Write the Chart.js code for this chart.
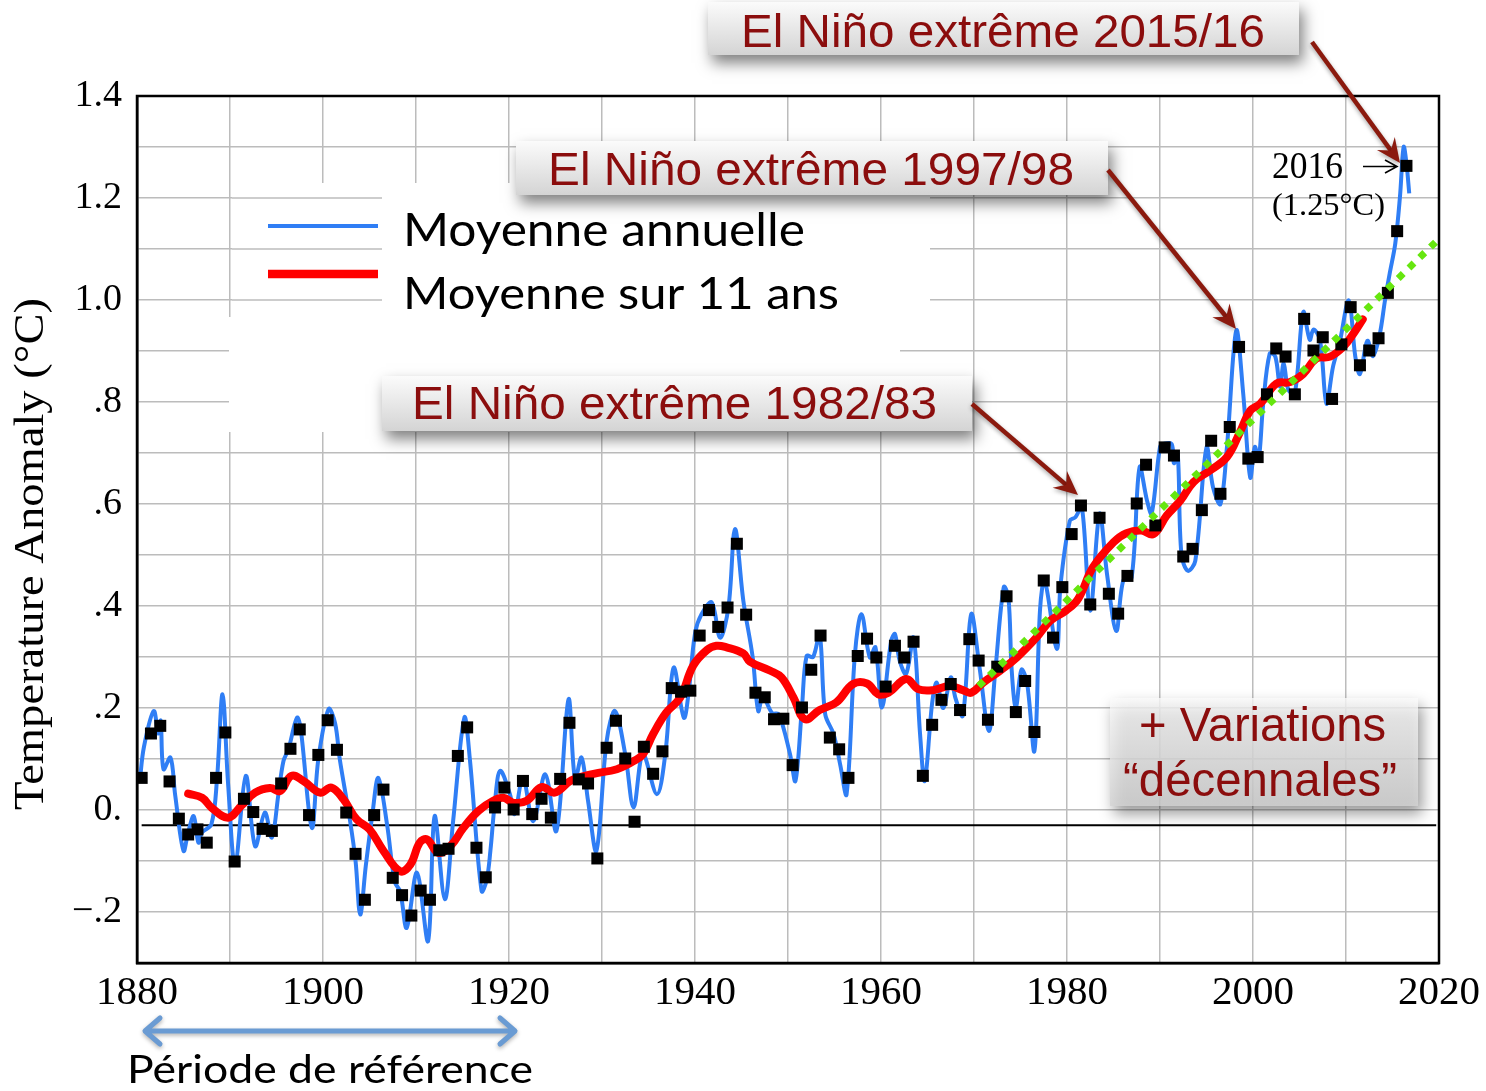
<!DOCTYPE html>
<html>
<head>
<meta charset="utf-8">
<title>Temperature Anomaly</title>
<script src="https://cdn.jsdelivr.net/npm/chart.js@4.4.1/dist/chart.umd.min.js"></script>
<style>
  html, body { margin: 0; padding: 0; background: #fff; }
  #wrap { width: 1486px; height: 1091px; }
</style>
</head>
<body>
<div id="wrap"><canvas id="tempChart" width="1486" height="1091"></canvas></div>
<script>
// annual values (black squares), one per year from 1880 to 2016
const firstYear = 1880;
const annualValues = [
  0.063, 0.150, 0.165, 0.056, -0.017, -0.048, -0.038, -0.064, 0.063, 0.152,
  -0.101, 0.022, -0.004, -0.037, -0.041, 0.052, 0.120, 0.158, -0.010, 0.108,
  0.176, 0.118, -0.005, -0.086, -0.176, -0.010, 0.040, -0.133, -0.167, -0.207,
  -0.158, -0.176, -0.079, -0.076, 0.106, 0.162, -0.074, -0.132, 0.005, 0.044,
  0.001, 0.057, -0.008, 0.022, -0.015, 0.061, 0.171, 0.060, 0.052, -0.095,
  0.122, 0.175, 0.101, -0.023, 0.124, 0.071, 0.115, 0.239, 0.232, 0.234,
  0.342, 0.392, 0.359, 0.397, 0.522, 0.383, 0.230, 0.221, 0.178, 0.179,
  0.088, 0.201, 0.275, 0.342, 0.142, 0.119, 0.063, 0.302, 0.336, 0.299,
  0.242, 0.322, 0.299, 0.330, 0.067, 0.167, 0.216, 0.247, 0.196, 0.335,
  0.293, 0.177, 0.281, 0.419, 0.192, 0.253, 0.153, 0.450, 0.338, 0.437,
  0.541, 0.597, 0.403, 0.573, 0.424, 0.385, 0.459, 0.601, 0.677, 0.558,
  0.711, 0.695, 0.497, 0.512, 0.588, 0.724, 0.620, 0.751, 0.908, 0.689,
  0.692, 0.815, 0.905, 0.889, 0.815, 0.963, 0.901, 0.927, 0.806, 0.913,
  0.986, 0.872, 0.901, 0.925, 1.014, 1.135, 1.263
];

// blue running mean (read as turning points off the picture)
const blueYears = [
  1880.3, 1880.75, 1881.8, 1882.3, 1882.55, 1882.85, 1883.6, 1884.1, 1885.0, 1885.5,
  1886.1, 1886.6, 1887.0, 1888.0, 1888.6, 1889.2, 1889.8, 1890.55, 1891.7, 1892.7,
  1893.75, 1894.5, 1895.2, 1895.75, 1896.3, 1897.2, 1897.6, 1898.8, 1899.5, 1900.6,
  1901.3, 1901.8, 1902.9, 1903.5, 1904.0, 1904.6, 1905.3, 1905.95, 1906.9, 1907.7,
  1908.3, 1909.0, 1910.1, 1911.3, 1912.0, 1913.1, 1914.0, 1915.2, 1915.8, 1917.05,
  1917.6, 1918.0, 1918.5, 1919.05, 1920.1, 1920.6, 1921.5, 1922.6, 1923.9, 1925.1,
  1926.4, 1927.1, 1927.8, 1928.5, 1929.4, 1930.5, 1931.4, 1932.5, 1933.4, 1934.4,
  1935.9, 1936.8, 1937.7, 1938.8, 1939.3, 1940.0, 1940.7, 1941.8, 1942.7, 1943.6,
  1944.3, 1945.2, 1946.2, 1946.8, 1947.3, 1948.3, 1949.0, 1950.2, 1950.8, 1951.5,
  1952.0, 1952.7, 1953.4, 1954.0, 1954.9, 1955.6, 1956.3, 1957.2, 1957.9, 1958.8,
  1959.4, 1960.1, 1961.1, 1961.5, 1962.0, 1962.7, 1963.5, 1964.2, 1964.7, 1965.5,
  1966.0, 1966.7, 1967.5, 1968.0, 1968.8, 1969.7, 1970.6, 1971.6, 1972.3, 1973.2,
  1973.7, 1974.05, 1974.5, 1975.1, 1975.7, 1976.5, 1977.1, 1977.6, 1978.9, 1979.3,
  1980.3, 1980.9, 1981.6, 1982.5, 1983.5, 1984.3, 1985.3, 1986.05, 1986.95, 1987.8,
  1988.6, 1989.1, 1990.0, 1990.4, 1991.25, 1991.5, 1991.9, 1992.3, 1993.0, 1993.8,
  1995.0, 1995.7, 1996.5, 1997.2, 1998.2, 1998.95, 1999.7, 2000.2, 2000.6, 2001.1,
  2001.8, 2002.4, 2002.9, 2003.3, 2003.8, 2004.5, 2005.4, 2006.1, 2006.5, 2007.2,
  2007.9, 2008.6, 2009.3, 2010.3, 2011.0, 2011.5, 2012.3, 2012.9, 2013.6, 2014.2,
  2014.7, 2015.3, 2015.8, 2016.2, 2016.5, 2016.8
];
const blueValues = [
  0.057, 0.124, 0.194, 0.150, 0.175, 0.080, 0.103, 0.030, -0.080, -0.044,
  -0.012, -0.064, -0.044, -0.028, 0.060, 0.227, 0.050, -0.107, 0.067, -0.071,
  -0.005, -0.054, 0.030, 0.096, 0.120, 0.181, 0.160, -0.035, 0.100, 0.198,
  0.170, 0.100, -0.020, -0.100, -0.205, -0.110, -0.010, 0.063, -0.030, -0.140,
  -0.160, -0.231, -0.123, -0.257, -0.012, -0.175, -0.020, 0.181, 0.098, -0.159,
  -0.137, -0.080, 0.018, 0.077, 0.031, -0.008, 0.063, -0.022, 0.070, -0.041,
  0.217, 0.060, 0.103, 0.018, -0.080, 0.135, 0.194, 0.109, 0.005, 0.109,
  0.031, 0.109, 0.279, 0.181, 0.228, 0.346, 0.384, 0.407, 0.338, 0.398,
  0.551, 0.410, 0.300, 0.194, 0.222, 0.190, 0.188, 0.111, 0.057, 0.201,
  0.302, 0.300, 0.345, 0.188, 0.149, 0.090, 0.031, 0.306, 0.384, 0.299,
  0.319, 0.201, 0.332, 0.345, 0.293, 0.267, 0.338, 0.149, 0.057, 0.210,
  0.250, 0.200, 0.260, 0.220, 0.185, 0.384, 0.279, 0.155, 0.275, 0.437,
  0.417, 0.275, 0.201, 0.275, 0.250, 0.116, 0.393, 0.450, 0.316, 0.440,
  0.567, 0.574, 0.594, 0.391, 0.581, 0.463, 0.351, 0.450, 0.456, 0.672,
  0.607, 0.581, 0.712, 0.718, 0.718, 0.680, 0.700, 0.502, 0.469, 0.489,
  0.711, 0.633, 0.600, 0.712, 0.940, 0.816, 0.652, 0.712, 0.686, 0.797,
  0.895, 0.889, 0.830, 0.876, 0.824, 0.817, 0.976, 0.922, 0.942, 0.922,
  0.797, 0.869, 0.915, 0.999, 0.889, 0.855, 0.920, 0.890, 0.930, 1.000,
  1.052, 1.111, 1.202, 1.300, 1.268, 1.209
];

// red 11-year mean
const redYears = [
  1885.5, 1887.0, 1888.0, 1889.8, 1891.2, 1892.7, 1894.3, 1895.4, 1896.6, 1897.9,
  1899.7, 1900.9, 1902.2, 1903.6, 1905.0, 1906.5, 1908.3, 1909.4, 1910.4, 1911.2,
  1912.4, 1913.7, 1915.1, 1916.7, 1918.3, 1919.4, 1920.5, 1921.9, 1923.5, 1924.9,
  1926.7, 1929.1, 1931.6, 1933.4, 1934.4, 1935.5, 1936.9, 1938.4, 1939.8, 1941.3,
  1942.3, 1943.4, 1945.2, 1945.9, 1948.1, 1949.3, 1950.6, 1951.8, 1953.4, 1955.2,
  1957.0, 1958.5, 1959.7, 1960.8, 1962.7, 1964.0, 1965.6, 1967.4, 1968.8, 1969.7,
  1971.0, 1972.8, 1974.6, 1976.7, 1978.2, 1979.9, 1981.2, 1982.8, 1985.0, 1986.4,
  1988.0, 1989.3, 1990.7, 1992.2, 1993.6, 1995.4, 1997.2, 1998.6, 1999.7, 2000.8,
  2002.5, 2004.0, 2005.4, 2006.8, 2008.3, 2009.7, 2010.8, 2011.8
];
const redValues = [
  0.032, 0.024, 0.005, -0.015, 0.008, 0.034, 0.043, 0.037, 0.067, 0.057,
  0.034, 0.044, 0.021, -0.018, -0.038, -0.080, -0.120, -0.107, -0.064, -0.058,
  -0.084, -0.071, -0.035, -0.002, 0.018, 0.024, 0.014, 0.018, 0.045, 0.034,
  0.058, 0.071, 0.080, 0.096, 0.109, 0.149, 0.191, 0.220, 0.283, 0.314,
  0.322, 0.319, 0.307, 0.291, 0.273, 0.260, 0.220, 0.178, 0.196, 0.211,
  0.247, 0.248, 0.227, 0.230, 0.257, 0.237, 0.235, 0.243, 0.235, 0.230,
  0.250, 0.273, 0.299, 0.338, 0.371, 0.391, 0.414, 0.476, 0.525, 0.543,
  0.548, 0.541, 0.577, 0.607, 0.643, 0.666, 0.692, 0.741, 0.783, 0.797,
  0.836, 0.839, 0.855, 0.885, 0.889, 0.908, 0.934, 0.962
];

// green dotted trend and the black reference level
const trendYears = [1970.5, 2020];
const trendValues = [0.243, 1.12];
const refYears = [1880.5, 2019.7];
const refValues = [-0.03, -0.03];

// tick labels
const xLabelYears = [1880, 1900, 1920, 1940, 1960, 1980, 2000, 2020];
const yTickValues = [1.4, 1.2, 1.0, 0.8, 0.6, 0.4, 0.2, 0, -0.2];
const yTickTexts = ['1.4', '1.2', '1.0', '.8', '.6', '.4', '.2', '0.', '\u2212.2'];

const toPoints = (xs, ys) => xs.map((x, i) => ({ x: x, y: ys[i] }));
const annualPoints = annualValues.map((v, i) => ({ x: firstYear + i + 0.5, y: v }));

const darkRed = '#8b0d0d';
const gridColor = '#bcbcbc';

// draw text so that it spans [left, right] with a given cap top and baseline
function spanText(ctx, text, left, right, capTop, baseline, family, capRatio, color) {
  const size = (baseline - capTop) / capRatio;
  ctx.save();
  ctx.font = size.toFixed(2) + 'px ' + family;
  const w = ctx.measureText(text).width;
  ctx.translate(left, baseline);
  ctx.scale((right - left) / w, 1);
  ctx.textAlign = 'left';
  ctx.textBaseline = 'alphabetic';
  ctx.fillStyle = color;
  ctx.fillText(text, 0, 0);
  ctx.restore();
}

function shadowBox(ctx, x, y, w, h, alpha) {
  ctx.save();
  ctx.globalAlpha = alpha;
  ctx.shadowColor = 'rgba(0,0,0,0.5)';
  ctx.shadowBlur = 14;
  ctx.shadowOffsetX = 4;
  ctx.shadowOffsetY = 8;
  const g = ctx.createLinearGradient(0, y, 0, y + h);
  g.addColorStop(0, '#fbfbfb');
  g.addColorStop(1, '#d4d4d4');
  ctx.fillStyle = g;
  ctx.fillRect(x, y, w, h);
  ctx.restore();
}

function stealthArrow(ctx, x1, y1, x2, y2) {
  const ang = Math.atan2(y2 - y1, x2 - x1);
  const len = 24, half = 11;
  ctx.save();
  ctx.shadowColor = 'rgba(0,0,0,0.35)';
  ctx.shadowBlur = 4;
  ctx.shadowOffsetY = 2;
  ctx.strokeStyle = '#8b1a0e';
  ctx.fillStyle = '#8b1a0e';
  ctx.lineWidth = 4.5;
  ctx.beginPath();
  ctx.moveTo(x1, y1);
  ctx.lineTo(x2 - Math.cos(ang) * len * 0.6, y2 - Math.sin(ang) * len * 0.6);
  ctx.stroke();
  ctx.translate(x2, y2);
  ctx.rotate(ang);
  ctx.beginPath();
  ctx.moveTo(0, 0);
  ctx.lineTo(-len, -half);
  ctx.lineTo(-len * 0.65, 0);
  ctx.lineTo(-len, half);
  ctx.closePath();
  ctx.fill();
  ctx.restore();
}

const decorations = {
  id: 'decorations',
  afterDraw(chart) {
    const ctx = chart.ctx;
    const area = chart.chartArea;
    const ys = chart.scales.y;

    // frame round the plot
    ctx.save();
    ctx.strokeStyle = '#000';
    ctx.lineWidth = 2.5;
    ctx.strokeRect(area.left, area.top, area.right - area.left, area.bottom - area.top);
    ctx.restore();

    // legend background
    ctx.save();
    ctx.fillStyle = '#fff';
    ctx.fillRect(232, 183, 698, 162);
    ctx.fillRect(229, 317, 671, 115);
    ctx.strokeStyle = gridColor;
    ctx.lineWidth = 1.5;
    [1.2, 1.1, 1.0].forEach(v => {
      const py = ys.getPixelForValue(v);
      ctx.beginPath();
      ctx.moveTo(232, py);
      ctx.lineTo(382, py);
      ctx.stroke();
    });
    ctx.lineCap = 'butt';
    ctx.strokeStyle = '#2f7ef5';
    ctx.lineWidth = 4;
    ctx.beginPath(); ctx.moveTo(268, 226); ctx.lineTo(378, 226); ctx.stroke();
    ctx.strokeStyle = '#ff0000';
    ctx.lineWidth = 8.5;
    ctx.beginPath(); ctx.moveTo(268, 274); ctx.lineTo(378, 274); ctx.stroke();
    ctx.restore();
    spanText(ctx, 'Moyenne annuelle', 403, 805, 213, 246, 'Lato', 0.72, '#000');
    spanText(ctx, 'Moyenne sur 11 ans', 403, 839, 277, 309, 'Lato', 0.72, '#000');

    // El Niño boxes
    shadowBox(ctx, 708, 2, 591, 53, 1);
    spanText(ctx, 'El Ni\u00f1o extr\u00eame 2015/16', 741, 1265, 14, 47, 'Liberation Sans', 0.716, darkRed);
    shadowBox(ctx, 516, 141, 592, 54, 1);
    spanText(ctx, 'El Ni\u00f1o extr\u00eame 1997/98', 548, 1074, 152, 185, 'Liberation Sans', 0.716, darkRed);
    shadowBox(ctx, 382, 376, 590, 55, 1);
    spanText(ctx, 'El Ni\u00f1o extr\u00eame 1982/83', 412, 937, 386, 419, 'Liberation Sans', 0.716, darkRed);

    stealthArrow(ctx, 1312, 42, 1400, 163);
    stealthArrow(ctx, 1108, 170, 1236, 329);
    stealthArrow(ctx, 972, 404, 1078, 495);

    // decadal variations box
    shadowBox(ctx, 1110, 698, 308, 108, 0.8);
    spanText(ctx, '+ Variations', 1139, 1386, 707, 741, 'Liberation Sans', 0.716, darkRed);
    spanText(ctx, '\u201cd\u00e9cennales\u201d', 1123, 1397, 761, 796, 'Liberation Sans', 0.716, darkRed);

    // 2016 note
    spanText(ctx, '2016', 1272, 1343, 153, 178, 'Liberation Serif', 0.676, '#000');
    spanText(ctx, '(1.25\u00b0C)', 1272, 1385, 194, 215, 'Liberation Serif', 0.676, '#000');
    ctx.save();
    ctx.strokeStyle = '#000';
    ctx.lineWidth = 1.6;
    ctx.beginPath();
    ctx.moveTo(1363, 166.5); ctx.lineTo(1397, 166.5);
    ctx.moveTo(1385, 160); ctx.lineTo(1397, 166.5); ctx.lineTo(1385, 173);
    ctx.stroke();
    ctx.restore();

    // y axis title
    ctx.save();
    ctx.translate(43, 810);
    ctx.rotate(-Math.PI / 2);
    spanText(ctx, 'Temperature Anomaly (\u00b0C)', 0, 512, -28, 0, 'Liberation Serif', 0.662, '#000');
    ctx.restore();

    // reference period arrow
    ctx.save();
    ctx.shadowColor = 'rgba(0,0,0,0.3)';
    ctx.shadowBlur = 4;
    ctx.shadowOffsetY = 2;
    ctx.strokeStyle = '#6a9bd3';
    ctx.lineWidth = 5;
    ctx.lineCap = 'round';
    ctx.lineJoin = 'round';
    ctx.beginPath();
    ctx.moveTo(146, 1031); ctx.lineTo(514, 1031);
    ctx.moveTo(160, 1018); ctx.lineTo(145, 1031); ctx.lineTo(160, 1044);
    ctx.moveTo(500, 1018); ctx.lineTo(515, 1031); ctx.lineTo(500, 1044);
    ctx.stroke();
    ctx.restore();
    spanText(ctx, 'P\u00e9riode de r\u00e9f\u00e9rence', 127, 533, 1055, 1083, 'Lato', 0.72, '#000');
  }
};

const ctx = document.getElementById('tempChart').getContext('2d');

const tempChart = new Chart(ctx, {
  type: 'line',
  data: {
    datasets: [
      {
        label: 'Moyenne annuelle',
        data: toPoints(blueYears, blueValues),
        borderColor: '#2f7ef5',
        borderWidth: 4,
        pointRadius: 0,
        tension: 0.35,
        order: 4,
      },
      {
        label: 'Moyenne sur 11 ans',
        data: toPoints(redYears, redValues),
        borderColor: '#ff0000',
        borderWidth: 8,
        pointRadius: 0,
        tension: 0.4,
        borderCapStyle: 'round',
        order: 3,
      },
      {
        label: 'Annual',
        data: annualPoints,
        showLine: false,
        pointStyle: 'rect',
        pointRadius: 8.5,
        pointBorderWidth: 0,
        pointBackgroundColor: '#000',
        order: 2,
      },
      {
        label: 'Trend',
        data: toPoints(trendYears, trendValues),
        borderColor: '#66e60f',
        borderWidth: 7,
        borderDash: [7, 8],
        pointRadius: 0,
        order: 1,
      },
      {
        label: 'Reference',
        data: toPoints(refYears, refValues),
        borderColor: '#000',
        borderWidth: 2,
        pointRadius: 0,
        order: 5,
      },
    ],
  },
  options: {
    responsive: false,
    animation: false,
    layout: {
      padding: { top: 96, right: 47, bottom: 0, left: 0 },
    },
    plugins: {
      legend: { display: false },
      tooltip: { enabled: false },
    },
    scales: {
      x: {
        type: 'linear',
        min: 1880,
        max: 2020,
        afterFit: (scale) => { scale.height = 128; },
        grid: { color: gridColor, lineWidth: 1.5, drawTicks: false },
        border: { color: '#000', width: 2.5 },
        ticks: {
          stepSize: 10,
          autoSkip: false,
          maxRotation: 0,
          padding: 6,
          color: '#000',
          font: { family: 'Liberation Serif', size: 41 },
          callback: (v) => xLabelYears.includes(Math.round(v)) ? String(Math.round(v)) : '',
        },
      },
      y: {
        min: -0.3,
        max: 1.4,
        afterFit: (scale) => { scale.width = 137; },
        grid: { color: gridColor, lineWidth: 1.5, drawTicks: false },
        border: { color: '#000', width: 2.5 },
        ticks: {
          stepSize: 0.1,
          autoSkip: false,
          padding: 15,
          color: '#000',
          font: { family: 'Liberation Serif', size: 38 },
          callback: (v) => {
            const i = yTickValues.findIndex(t => Math.abs(t - v) < 1e-6);
            return i >= 0 ? yTickTexts[i] : '';
          },
        },
      },
    },
  },
  plugins: [decorations],
});
</script>
</body>
</html>
